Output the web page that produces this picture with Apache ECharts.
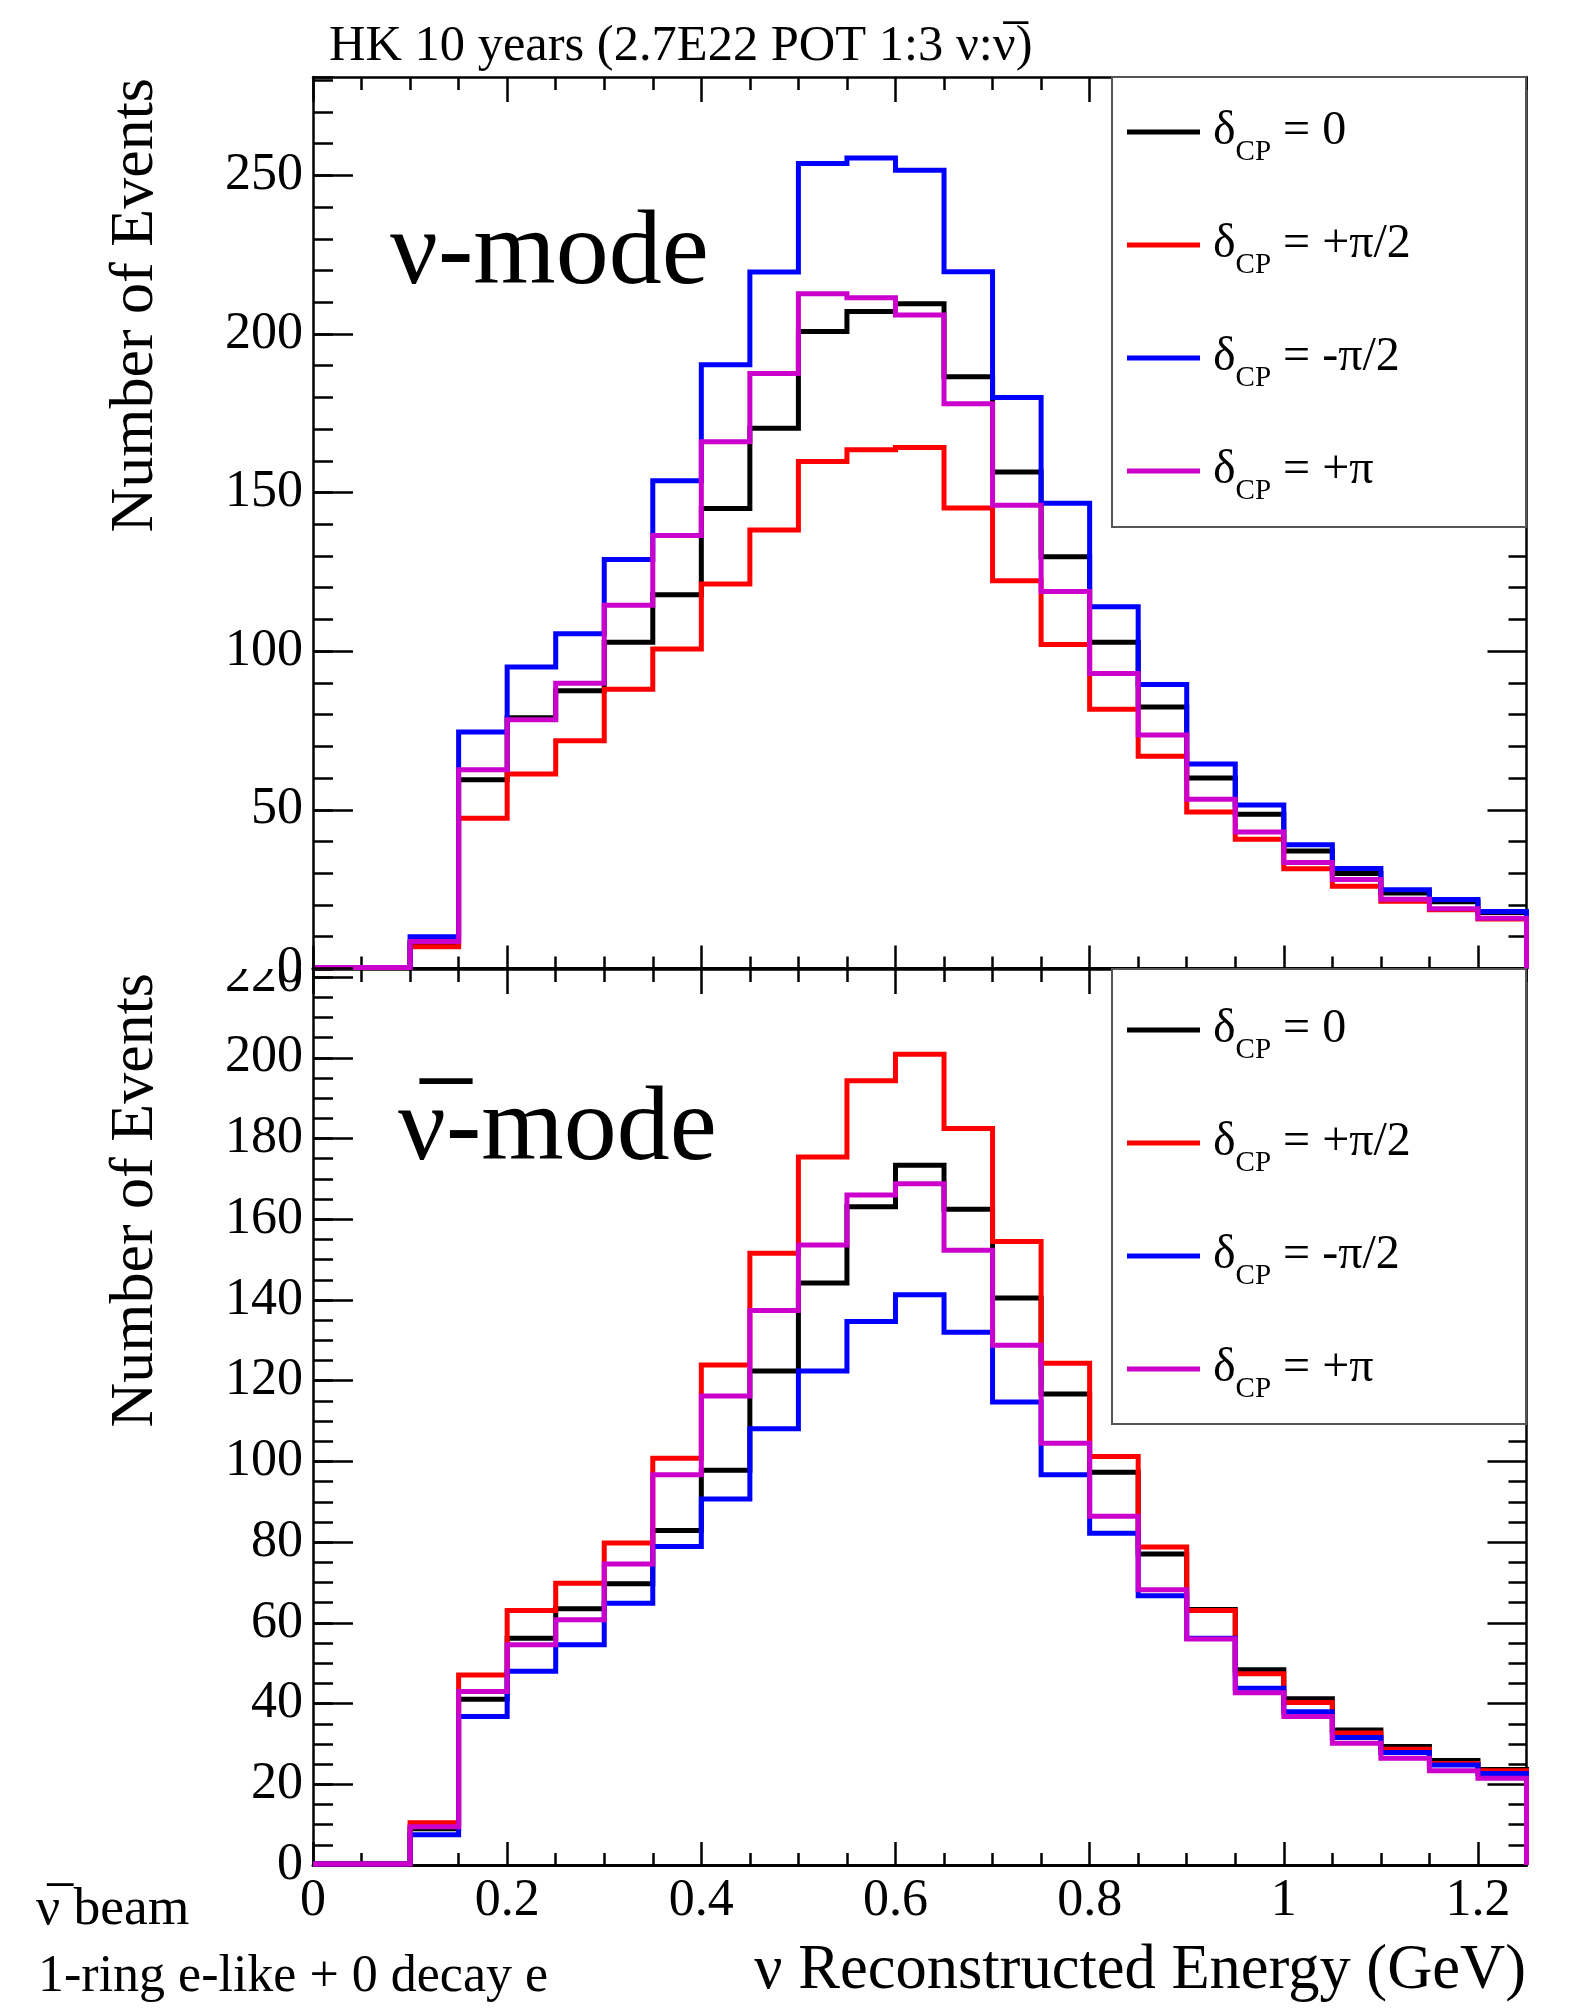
<!DOCTYPE html>
<html>
<head>
<meta charset="utf-8">
<script src="https://cdn.jsdelivr.net/npm/echarts@6/dist/echarts.min.js"></script>
<style>
  html, body { margin: 0; padding: 0; background: #ffffff; }
  #chart { width: 1588px; height: 2011px; }
</style>
</head>
<body>
<div id="chart"></div>
<script>
// Reconstructed-energy bin edges (GeV), 25 bins of 0.05 GeV
const binEdges = [0, 0.05, 0.1, 0.15, 0.2, 0.25, 0.3, 0.35, 0.4, 0.45, 0.5, 0.55, 0.6,
  0.65, 0.7, 0.75, 0.8, 0.85, 0.9, 0.95, 1.0, 1.05, 1.1, 1.15, 1.2, 1.25];

// nu-mode event counts per bin, one array per delta_CP hypothesis
const nuDelta0      = [0.3, 0.3, 8.0, 59.5, 79.0, 87.5, 102.8, 117.8, 145.0, 170.3, 200.8, 207.1, 209.5, 186.5, 156.5, 129.8, 102.8, 82.4, 60.0, 48.6, 37.0, 29.9, 23.8, 21.0, 17.6];
const nuDeltaPlus   = [0.3, 0.3, 6.8, 47.3, 61.3, 71.8, 88.0, 100.7, 121.2, 138.2, 159.8, 163.5, 164.2, 145.1, 122.2, 102.1, 81.7, 66.9, 49.3, 40.7, 31.4, 25.9, 21.2, 18.5, 15.6];
const nuDeltaMinus  = [0.3, 0.3, 10.0, 74.5, 95.0, 105.5, 128.9, 153.7, 190.3, 219.5, 253.7, 255.5, 251.6, 219.6, 180.0, 146.6, 114.0, 89.5, 64.4, 51.5, 39.0, 31.5, 24.8, 21.7, 17.9];
const nuDeltaPi     = [0.3, 0.3, 8.5, 62.6, 78.4, 89.9, 114.5, 136.5, 166.0, 187.5, 212.7, 211.4, 206.0, 178.0, 146.0, 118.8, 93.0, 73.6, 53.3, 43.0, 33.4, 28.0, 21.8, 18.8, 15.8];

// anti-nu-mode event counts per bin
const nubarDelta0     = [0.3, 0.3, 9.0, 41.1, 56.2, 63.5, 69.7, 82.9, 97.8, 122.4, 144.2, 163.1, 173.4, 162.5, 140.5, 116.7, 97.3, 77.1, 63.3, 48.4, 41.2, 33.5, 29.4, 25.9, 23.7];
const nubarDeltaPlus  = [0.3, 0.3, 10.5, 47.1, 63.1, 69.8, 79.8, 100.8, 123.9, 151.6, 175.4, 194.3, 200.9, 182.5, 154.5, 124.3, 101.2, 78.8, 63.1, 47.4, 40.3, 32.7, 28.7, 25.2, 23.4];
const nubarDeltaMinus = [0.3, 0.3, 7.5, 36.8, 48.0, 54.6, 64.9, 78.9, 90.7, 108.1, 122.4, 134.7, 141.3, 132.0, 114.7, 96.7, 82.2, 66.7, 56.2, 43.8, 38.0, 31.6, 27.9, 24.8, 22.7];
const nubarDeltaPi    = [0.3, 0.3, 9.5, 43.0, 54.6, 60.8, 74.6, 96.7, 116.2, 137.4, 153.6, 166.0, 168.8, 152.3, 128.8, 104.5, 86.4, 68.2, 56.0, 42.7, 36.8, 30.2, 26.5, 23.4, 21.5];

const seriesNames  = ['δCP = 0', 'δCP = +π/2', 'δCP = -π/2', 'δCP = +π'];
const seriesColors = ['#000000', '#ff0000', '#0000ff', '#cc00cc'];

// Tick labels
const energyTicks  = [0, 0.2, 0.4, 0.6, 0.8, 1, 1.2];
const nuYTicks     = [0, 50, 100, 150, 200, 250];
const nubarYTicks  = [0, 20, 40, 60, 80, 100, 120, 140, 160, 180, 200, 220];

// antineutrino symbol: nu with a combining overline
const NUBAR = 'ν\u0305';

const FONT = 'Liberation Serif';
const TICK_FONT = 52;

// Histogram outline: horizontal step per bin, closing down to zero at the last edge
function stepPoints(values) {
  const pts = [];
  values.forEach((v, i) => {
    pts.push([binEdges[i], v]);
    pts.push([binEdges[i + 1], v]);
  });
  pts.push([binEdges[binEdges.length - 1], 0]);
  return pts;
}

const xMin = binEdges[0], xMax = binEdges[binEdges.length - 1];
const tickLine = { color: '#000', width: 2.5 };
const hiddenLine = { show: false, onZero: false };

function xAxesFor(gridIndex, withLabels) {
  const base = { type: 'value', gridIndex, min: xMin, max: xMax, splitLine: { show: false } };
  return [
    Object.assign({}, base, {
      position: 'bottom',
      axisLine: { show: true, onZero: false, lineStyle: { color: '#000', width: 3 } },
      axisTick: { show: true, inside: true, length: 23, customValues: energyTicks, lineStyle: tickLine },
      axisLabel: withLabels
        ? { show: true, customValues: energyTicks, margin: 10, color: '#000', fontFamily: FONT, fontSize: TICK_FONT }
        : { show: false }
    }),
    Object.assign({}, base, {
      position: 'bottom', interval: 0.05,
      axisLine: hiddenLine,
      axisTick: { show: true, inside: true, length: 12, lineStyle: tickLine },
      axisLabel: { show: false }
    }),
    Object.assign({}, base, {
      position: 'top',
      axisLine: { show: true, onZero: false, lineStyle: { color: '#000', width: 2.5 } },
      axisTick: { show: true, inside: true, length: 25, customValues: energyTicks, lineStyle: tickLine },
      axisLabel: { show: false }
    }),
    Object.assign({}, base, {
      position: 'top', interval: 0.05,
      axisLine: hiddenLine,
      axisTick: { show: true, inside: true, length: 13, lineStyle: tickLine },
      axisLabel: { show: false }
    })
  ];
}

function yAxesFor(gridIndex, yMax, majorTicks, minorStep, leftZ) {
  const base = { type: 'value', gridIndex, min: 0, max: yMax, splitLine: { show: false } };
  return [
    Object.assign({}, base, {
      position: 'left', z: leftZ,
      axisLine: { show: true, onZero: false, lineStyle: { color: '#000', width: 2.5 } },
      axisTick: { show: true, inside: true, length: 40, customValues: majorTicks, lineStyle: tickLine },
      axisLabel: { show: true, customValues: majorTicks, margin: 10, color: '#000', fontFamily: FONT, fontSize: TICK_FONT }
    }),
    Object.assign({}, base, {
      position: 'left', interval: minorStep,
      axisLine: hiddenLine,
      axisTick: { show: true, inside: true, length: 20, lineStyle: tickLine },
      axisLabel: { show: false }
    }),
    Object.assign({}, base, {
      position: 'right',
      axisLine: { show: true, onZero: false, lineStyle: { color: '#000', width: 2.5 } },
      axisTick: { show: true, inside: true, length: 39, customValues: majorTicks, lineStyle: tickLine },
      axisLabel: { show: false }
    }),
    Object.assign({}, base, {
      position: 'right', interval: minorStep,
      axisLine: hiddenLine,
      axisTick: { show: true, inside: true, length: 18, lineStyle: tickLine },
      axisLabel: { show: false }
    })
  ];
}

function histSeries(values, k, axisIndex) {
  return {
    type: 'line',
    name: seriesNames[k],
    xAxisIndex: axisIndex,
    yAxisIndex: axisIndex,
    data: stepPoints(values),
    showSymbol: false,
    symbol: 'none',
    clip: false,
    silent: true,
    animation: false,
    z: 2 + k * 0.01,
    itemStyle: { color: seriesColors[k] },
    lineStyle: { color: seriesColors[k], width: 5, join: 'miter', cap: 'butt' }
  };
}

function legendLabel(name) {
  return '{d|δ}{s|CP}{t|' + name.replace('δCP', '') + '}';
}

const legendRich = {
  d: { fontFamily: FONT, fontSize: 48, lineHeight: 50, verticalAlign: 'top', color: '#000', padding: [0, 0, 0, 8] },
  s: { fontFamily: FONT, fontSize: 29, lineHeight: 29, verticalAlign: 'top', color: '#000', padding: [31, 0, 0, 0] },
  t: { fontFamily: FONT, fontSize: 48, lineHeight: 50, verticalAlign: 'top', color: '#000' }
};

function legendFor(top) {
  return {
    orient: 'vertical', left: 1127, top: top, padding: 0,
    icon: 'rect', itemWidth: 73, itemHeight: 5, itemGap: 53,
    selectedMode: false,
    data: seriesNames,
    formatter: legendLabel,
    textStyle: { rich: legendRich }
  };
}

const nuSets = [nuDelta0, nuDeltaPlus, nuDeltaMinus, nuDeltaPi];
const nubarSets = [nubarDelta0, nubarDeltaPlus, nubarDeltaMinus, nubarDeltaPi];

const option = {
  backgroundColor: '#ffffff',
  animation: false,
  grid: [
    { left: 313, right: 61.5, top: 77, bottom: 1042.6, containLabel: false, outerBoundsMode: 'none' },
    { left: 313, right: 61.5, top: 969, bottom: 145.9, containLabel: false, outerBoundsMode: 'none' }
  ],
  xAxis: xAxesFor(0, false).concat(xAxesFor(1, true)),
  yAxis: yAxesFor(0, 281, nuYTicks, 10, 10).concat(yAxesFor(1, 222, nubarYTicks, 5, 1)),
  legend: [legendFor(107), legendFor(1005)],
  series: nuSets.map((v, k) => histSeries(v, k, 0)).concat(nubarSets.map((v, k) => histSeries(v, k, 4))),
  graphic: [
    // legend frames
    { type: 'rect', z: 3, shape: { x: 1112, y: 77, width: 414, height: 450 },
      style: { fill: '#fff', stroke: '#555', lineWidth: 2 } },
    { type: 'rect', z: 3, shape: { x: 1112, y: 969, width: 414, height: 455 },
      style: { fill: '#fff', stroke: '#555', lineWidth: 2 } },
    // upper pad hides the top of the lower pad's highest label
    { type: 'rect', z: 5, shape: { x: 150, y: 900, width: 160, height: 69 },
      style: { fill: '#fff' } },
    { type: 'text', z: 10, x: 329, y: 47,
      style: { text: 'HK 10 years (2.7E22 POT 1:3 ν:' + NUBAR + ')', fontFamily: FONT, fontSize: 50.5, fill: '#000', align: 'left', verticalAlign: 'middle' } },
    { type: 'text', z: 10, x: 390, y: 255,
      style: { text: 'ν-mode', fontFamily: FONT, fontSize: 106, fill: '#000', align: 'left', verticalAlign: 'middle' } },
    { type: 'text', z: 10, x: 398, y: 1131,
      style: { text: NUBAR + '-mode', fontFamily: FONT, fontSize: 106, fill: '#000', align: 'left', verticalAlign: 'middle' } },
    { type: 'text', z: 10, x: 136, y: 78, rotation: Math.PI / 2,
      style: { text: 'Number of Events', fontFamily: FONT, fontSize: 62, fill: '#000', align: 'right', verticalAlign: 'middle' } },
    { type: 'text', z: 10, x: 136, y: 973, rotation: Math.PI / 2,
      style: { text: 'Number of Events', fontFamily: FONT, fontSize: 62, fill: '#000', align: 'right', verticalAlign: 'middle' } },
    { type: 'text', z: 10, x: 1526, y: 1972,
      style: { text: 'ν Reconstructed Energy (GeV)', fontFamily: FONT, fontSize: 62.5, fill: '#000', align: 'right', verticalAlign: 'middle' } },
    { type: 'text', z: 10, x: 36, y: 1910,
      style: { text: NUBAR + ' beam', fontFamily: FONT, fontSize: 53.5, fill: '#000', align: 'left', verticalAlign: 'middle' } },
    { type: 'text', z: 10, x: 38, y: 1977,
      style: { text: '1-ring e-like + 0 decay e', fontFamily: FONT, fontSize: 52, fill: '#000', align: 'left', verticalAlign: 'middle' } }
  ]
};

const chart = echarts.init(document.getElementById('chart'), null, { renderer: 'canvas' });
chart.setOption(option);
</script>
</body>
</html>
